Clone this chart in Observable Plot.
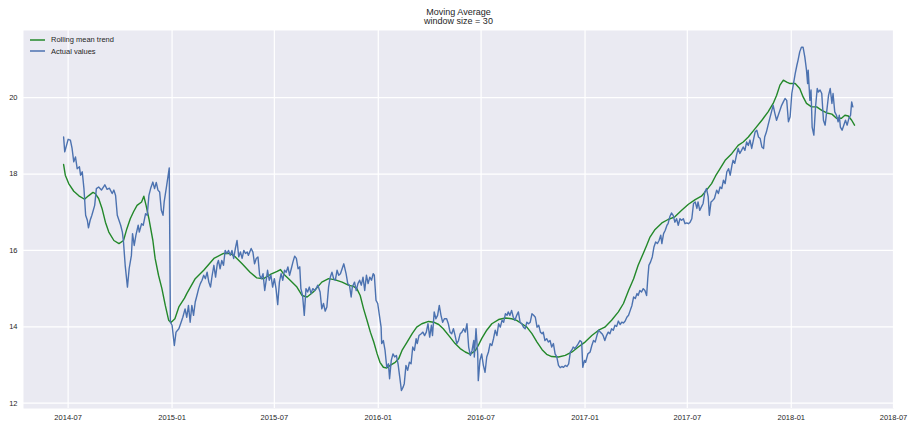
<!DOCTYPE html>
<html>
<head>
<meta charset="utf-8">
<script src="https://cdn.jsdelivr.net/npm/d3@7"></script>
<script src="https://cdn.jsdelivr.net/npm/@observablehq/plot@0.6"></script>
<style>
  body { margin: 0; background: #ffffff; font-family: "Liberation Sans", Arial, sans-serif; }
  #wrap { position: relative; width: 917px; height: 431px; }
  #title { height: 30px; box-sizing: border-box; padding-top: 7.5px; text-align: center; font-size: 9px; line-height: 9.5px; color: #262626; }
  #legend { position: absolute; left: 30px; top: 33.75px; font-size: 7.5px; color: #262626; }
  .item { display: flex; align-items: center; height: 11.5px; }
  .item svg { display: block; margin-right: 6px; }
</style>
</head>
<body>
<div id="wrap">
  <div id="title">Moving Average<br>window size = 30</div>
  <div id="chart"></div>
  <div id="legend"></div>
</div>
<script>
// ---- Data ----
const actualDates = [
"2014-06-23","2014-06-25","2014-07-01","2014-07-05","2014-07-08","2014-07-11","2014-07-14","2014-07-17","2014-07-21","2014-07-23",
"2014-07-26","2014-07-29","2014-08-01","2014-08-04","2014-08-06","2014-08-09","2014-08-12","2014-08-17","2014-08-20","2014-08-24",
"2014-08-29","2014-09-04","2014-09-08","2014-09-12","2014-09-17","2014-09-20","2014-09-23","2014-09-26","2014-09-29","2014-10-02",
"2014-10-05","2014-10-07","2014-10-10","2014-10-14","2014-10-17","2014-10-21","2014-10-23","2014-10-26","2014-10-29","2014-11-02",
"2014-11-04","2014-11-08","2014-11-11","2014-11-15","2014-11-18","2014-11-21","2014-11-24","2014-11-28","2014-12-01","2014-12-04",
"2014-12-07","2014-12-10","2014-12-13","2014-12-16","2014-12-18","2014-12-22","2014-12-27","2014-12-29","2015-01-01","2015-01-05",
"2015-01-08","2015-01-13","2015-01-17","2015-01-20","2015-01-24","2015-01-27","2015-01-30","2015-02-02","2015-02-05","2015-02-08",
"2015-02-11","2015-02-14","2015-02-17","2015-02-20","2015-02-23","2015-02-26","2015-03-01","2015-03-04","2015-03-07","2015-03-10",
"2015-03-13","2015-03-16","2015-03-19","2015-03-22","2015-03-24","2015-03-27","2015-03-30","2015-04-02","2015-04-05","2015-04-08",
"2015-04-11","2015-04-14","2015-04-17","2015-04-20","2015-04-23","2015-04-26","2015-04-29","2015-05-02","2015-05-05","2015-05-08",
"2015-05-11","2015-05-14","2015-05-16","2015-05-21","2015-05-24","2015-05-27","2015-05-30","2015-06-02","2015-06-05","2015-06-08",
"2015-06-11","2015-06-14","2015-06-17","2015-06-19","2015-06-22","2015-06-25","2015-06-28","2015-07-01","2015-07-04","2015-07-07",
"2015-07-10","2015-07-13","2015-07-16","2015-07-19","2015-07-22","2015-07-25","2015-07-28","2015-07-31","2015-08-03","2015-08-06",
"2015-08-09","2015-08-12","2015-08-15","2015-08-17","2015-08-20","2015-08-23","2015-08-26","2015-08-29","2015-09-01","2015-09-04",
"2015-09-07","2015-09-11","2015-09-16","2015-09-20","2015-09-23","2015-09-26","2015-09-29","2015-10-02","2015-10-05","2015-10-08",
"2015-10-11","2015-10-14","2015-10-17","2015-10-20","2015-10-23","2015-10-26","2015-10-29","2015-11-01","2015-11-05","2015-11-08",
"2015-11-11","2015-11-14","2015-11-16","2015-11-20","2015-11-23","2015-11-26","2015-11-29","2015-12-02","2015-12-05","2015-12-08",
"2015-12-11","2015-12-14","2015-12-17","2015-12-20","2015-12-23","2015-12-25","2015-12-28","2015-12-31","2016-01-03","2016-01-06",
"2016-01-07","2016-01-10","2016-01-13","2016-01-16","2016-01-19","2016-01-21","2016-01-24","2016-01-27","2016-01-30","2016-02-02",
"2016-02-05","2016-02-08","2016-02-11","2016-02-14","2016-02-16","2016-02-19","2016-02-22","2016-02-25","2016-02-28","2016-03-02",
"2016-03-05","2016-03-08","2016-03-10","2016-03-13","2016-03-17","2016-03-20","2016-03-23","2016-03-26","2016-03-29","2016-04-01",
"2016-04-04","2016-04-06","2016-04-09","2016-04-12","2016-04-15","2016-04-18","2016-04-21","2016-04-24","2016-04-27","2016-05-01",
"2016-05-04","2016-05-07","2016-05-10","2016-05-13","2016-05-16","2016-05-19","2016-05-22","2016-05-25","2016-05-28","2016-05-31",
"2016-06-03","2016-06-06","2016-06-09","2016-06-12","2016-06-15","2016-06-18","2016-06-19","2016-06-22","2016-06-25","2016-06-26",
"2016-06-29","2016-07-02","2016-07-05","2016-07-08","2016-07-11","2016-07-14","2016-07-17","2016-07-20","2016-07-23","2016-07-26",
"2016-07-29","2016-08-01","2016-08-04","2016-08-07","2016-08-10","2016-08-13","2016-08-16","2016-08-18","2016-08-21","2016-08-24",
"2016-08-27","2016-08-30","2016-09-02","2016-09-05","2016-09-08","2016-09-11","2016-09-14","2016-09-17","2016-09-20","2016-09-23",
"2016-09-26","2016-09-29","2016-10-02","2016-10-05","2016-10-08","2016-10-11","2016-10-14","2016-10-17","2016-10-19","2016-10-22",
"2016-10-25","2016-10-28","2016-10-31","2016-11-03","2016-11-06","2016-11-09","2016-11-12","2016-11-15","2016-11-18","2016-11-21",
"2016-11-24","2016-11-27","2016-11-30","2016-12-03","2016-12-06","2016-12-09","2016-12-11","2016-12-14","2016-12-17","2016-12-20",
"2016-12-23","2016-12-26","2016-12-28","2016-12-31","2017-01-02","2017-01-06","2017-01-10","2017-01-13","2017-01-16","2017-01-19",
"2017-01-22","2017-01-25","2017-01-28","2017-01-31","2017-02-02","2017-02-05","2017-02-08","2017-02-11","2017-02-14","2017-02-17",
"2017-02-20","2017-02-23","2017-02-26","2017-03-01","2017-03-04","2017-03-07","2017-03-10","2017-03-13","2017-03-16","2017-03-19",
"2017-03-22","2017-03-25","2017-03-28","2017-03-31","2017-04-03","2017-04-05","2017-04-08","2017-04-11","2017-04-14","2017-04-17",
"2017-04-20","2017-04-22","2017-04-24","2017-04-27","2017-04-30","2017-05-03","2017-05-06","2017-05-09","2017-05-12","2017-05-15",
"2017-05-17","2017-05-20","2017-05-23","2017-05-26","2017-05-28","2017-05-31","2017-06-03","2017-06-06","2017-06-09","2017-06-12",
"2017-06-15","2017-06-18","2017-06-21","2017-06-24","2017-06-27","2017-06-30","2017-07-03","2017-07-06","2017-07-09","2017-07-12",
"2017-07-15","2017-07-18","2017-07-20","2017-07-23","2017-07-26","2017-07-29","2017-08-01","2017-08-04","2017-08-07","2017-08-09",
"2017-08-12","2017-08-15","2017-08-18","2017-08-22","2017-08-25","2017-08-28","2017-08-31","2017-09-03","2017-09-06","2017-09-09",
"2017-09-12","2017-09-15","2017-09-18","2017-09-20","2017-09-23","2017-09-26","2017-09-29","2017-10-02","2017-10-05","2017-10-08",
"2017-10-11","2017-10-14","2017-10-17","2017-10-20","2017-10-23","2017-10-26","2017-10-29","2017-11-01","2017-11-04","2017-11-07",
"2017-11-10","2017-11-13","2017-11-15","2017-11-18","2017-11-21","2017-11-24","2017-11-27","2017-11-30","2017-12-03","2017-12-06",
"2017-12-09","2017-12-12","2017-12-15","2017-12-18","2017-12-21","2017-12-24","2017-12-27","2017-12-30","2018-01-02","2018-01-05",
"2018-01-08","2018-01-11","2018-01-13","2018-01-16","2018-01-19","2018-01-22","2018-01-25","2018-01-28","2018-01-30","2018-01-31",
"2018-02-03","2018-02-05","2018-02-07","2018-02-10","2018-02-13","2018-02-16","2018-02-18","2018-02-21","2018-02-24","2018-02-27",
"2018-03-02","2018-03-05","2018-03-08","2018-03-11","2018-03-14","2018-03-16","2018-03-19","2018-03-22","2018-03-25","2018-03-27",
"2018-03-29","2018-04-01","2018-04-04","2018-04-07","2018-04-10","2018-04-13","2018-04-16","2018-04-18","2018-04-20"
];
const actualValues = [
18.97,18.58,18.91,18.89,18.67,18.32,18.45,18.14,18.19,17.97,
18.06,17.62,16.92,16.79,16.59,16.79,16.92,17.18,17.62,17.66,
17.58,17.72,17.60,17.63,17.49,17.58,17.44,16.92,16.79,16.66,
16.48,16.22,15.61,15.04,15.52,15.87,16.44,16.13,16.40,16.66,
16.48,16.70,16.66,16.96,16.92,17.44,17.62,17.79,17.62,17.78,
17.58,17.53,17.05,16.92,17.27,17.66,18.16,14.12,14.04,13.51,
13.86,13.95,14.12,14.25,14.47,14.25,14.56,14.12,14.56,14.30,
14.65,14.82,15.00,15.13,15.22,15.35,15.26,15.43,15.17,15.04,
15.35,15.61,15.30,15.65,15.74,15.52,15.74,15.61,16.00,15.92,
16.00,15.87,16.00,15.79,16.05,16.26,15.83,15.96,15.79,16.00,
15.92,15.96,15.87,16.05,15.96,15.65,15.79,15.83,15.35,15.26,
15.39,14.95,15.26,15.48,15.22,15.35,15.04,15.26,15.00,14.58,
15.17,15.39,15.22,15.48,15.43,15.57,15.35,15.52,15.70,15.85,
15.79,15.52,15.57,15.00,14.82,14.30,15.00,14.91,15.04,14.87,
15.00,14.95,15.09,14.91,14.47,14.61,14.41,14.52,15.04,15.30,
15.43,15.26,15.22,15.48,15.35,15.39,15.52,15.65,15.39,15.13,
15.09,14.78,15.04,15.17,14.95,15.13,15.22,15.09,15.30,14.95,
15.35,15.13,15.30,15.22,15.39,15.35,14.69,14.61,14.30,13.99,
13.56,13.64,13.38,12.94,13.03,12.64,13.12,13.29,13.21,13.25,
13.03,12.68,12.33,12.42,12.51,12.99,12.86,13.07,13.03,13.47,
13.38,13.69,13.56,13.77,13.82,13.86,13.77,13.86,14.08,13.73,
14.04,13.77,14.39,14.21,14.30,14.56,14.30,14.12,14.21,14.21,
14.08,13.86,13.82,13.95,13.77,13.56,13.64,13.82,13.86,13.95,
13.86,14.08,13.47,13.25,13.38,13.64,13.21,13.95,13.29,12.59,
13.12,13.29,12.99,12.81,13.21,13.34,13.56,13.51,13.69,13.91,
13.77,14.08,13.99,14.17,14.12,14.34,14.30,14.39,14.30,14.43,
14.25,14.17,14.30,14.39,14.12,14.08,13.99,13.95,14.12,14.08,
14.12,14.34,14.30,14.25,13.99,14.04,13.86,13.82,13.86,13.64,
13.69,13.60,13.64,13.47,13.56,13.29,13.21,12.99,12.93,12.96,
12.94,12.99,12.96,13.03,13.34,13.40,13.47,13.43,13.49,13.56,
13.64,13.60,12.94,13.12,13.07,13.29,13.34,13.51,13.64,13.60,
13.77,13.91,13.86,13.82,13.77,13.64,13.77,13.86,13.82,13.95,
13.91,14.04,14.01,14.15,14.06,14.12,14.10,14.15,14.25,14.30,
14.43,14.56,14.78,14.74,14.87,14.82,14.95,14.91,15.00,14.95,
14.82,15.26,15.61,15.70,15.83,16.09,16.22,16.18,16.26,16.40,
16.18,16.44,16.53,16.66,16.70,16.88,16.98,16.92,16.74,16.83,
16.66,16.83,16.79,16.83,16.70,16.72,16.70,16.74,16.83,17.23,
17.27,17.10,17.27,17.05,17.14,17.23,17.53,17.62,17.40,16.92,
17.27,17.31,17.36,17.58,17.49,17.66,17.62,17.84,17.75,18.06,
18.14,17.97,18.23,18.36,18.28,18.49,18.67,18.54,18.62,18.71,
18.62,18.84,18.75,18.89,18.67,18.89,19.10,19.15,18.97,18.93,
18.71,18.67,18.97,19.10,19.28,19.46,19.63,19.80,19.59,19.41,
19.54,19.67,19.80,19.89,19.98,19.93,19.37,19.50,20.11,20.37,
20.63,20.85,20.98,21.20,21.32,21.32,21.07,20.72,20.37,20.72,
19.93,20.20,19.23,19.02,19.76,20.24,20.15,20.20,20.11,19.41,
19.28,19.67,20.06,20.24,19.85,20.11,19.63,19.54,19.37,19.54,
19.23,19.15,19.28,19.41,19.28,19.46,19.54,19.89,19.76
];

const trendDates = [
"2014-06-23","2014-06-26","2014-07-02","2014-07-11","2014-07-20","2014-07-30","2014-08-06","2014-08-14","2014-08-18","2014-08-24",
"2014-08-30","2014-09-05","2014-09-11","2014-09-20","2014-09-29","2014-10-07","2014-10-13","2014-10-19","2014-10-25","2014-10-31",
"2014-11-08","2014-11-12","2014-11-16","2014-11-21","2014-11-28","2014-12-02","2014-12-08","2014-12-14","2014-12-20","2014-12-26",
"2014-12-30","2015-01-06","2015-01-13","2015-01-23","2015-01-27","2015-02-11","2015-02-26","2015-03-16","2015-04-02","2015-04-14",
"2015-04-23","2015-05-05","2015-05-19","2015-05-31","2015-06-12","2015-06-24","2015-07-06","2015-07-12","2015-07-17","2015-07-29",
"2015-08-10","2015-08-19","2015-08-28","2015-09-08","2015-09-23","2015-10-05","2015-10-17","2015-10-29","2015-11-09","2015-11-18",
"2015-11-24","2015-11-30","2015-12-06","2015-12-12","2015-12-18","2015-12-24","2015-12-30","2016-01-04","2016-01-10","2016-01-16",
"2016-01-22","2016-01-31","2016-02-06","2016-02-12","2016-02-21","2016-03-01","2016-03-09","2016-03-18","2016-03-30","2016-04-08",
"2016-04-17","2016-04-25","2016-05-07","2016-05-16","2016-05-25","2016-06-03","2016-06-12","2016-06-21","2016-06-26","2016-07-02",
"2016-07-11","2016-07-20","2016-08-01","2016-08-13","2016-08-24","2016-09-02","2016-09-11","2016-09-20","2016-09-29","2016-10-08",
"2016-10-17","2016-10-25","2016-11-03","2016-11-15","2016-11-27","2016-12-09","2016-12-20","2017-01-01","2017-01-13","2017-01-25",
"2017-02-05","2017-02-17","2017-03-01","2017-03-10","2017-03-19","2017-03-28","2017-04-05","2017-04-14","2017-04-20","2017-04-26",
"2017-05-05","2017-05-17","2017-05-28","2017-06-09","2017-06-21","2017-07-03","2017-07-15","2017-07-26","2017-08-04","2017-08-13",
"2017-08-20","2017-08-28","2017-09-06","2017-09-18","2017-09-29","2017-10-08","2017-10-17","2017-10-29","2017-11-10","2017-11-21",
"2017-11-30","2017-12-06","2017-12-12","2017-12-18","2017-12-24","2017-12-30","2018-01-08","2018-01-16","2018-01-22","2018-01-28",
"2018-02-06","2018-02-15","2018-02-24","2018-03-05","2018-03-14","2018-03-22","2018-03-31","2018-04-06","2018-04-12","2018-04-18",
"2018-04-23"
];
const trendValues = [
18.25,17.97,17.75,17.55,17.43,17.34,17.43,17.52,17.49,17.36,
17.10,16.74,16.48,16.26,16.18,16.26,16.57,16.83,17.02,17.18,
17.27,17.42,17.18,16.83,16.26,15.79,15.35,15.00,14.56,14.17,
14.11,14.21,14.52,14.75,14.87,15.26,15.48,15.79,15.92,15.92,
15.83,15.65,15.43,15.28,15.26,15.37,15.45,15.50,15.39,15.22,
15.04,14.82,14.78,14.91,15.17,15.26,15.23,15.17,15.09,15.06,
15.00,14.82,14.47,14.17,13.86,13.60,13.29,13.07,12.94,12.92,
12.99,13.07,13.16,13.38,13.60,13.82,13.99,14.08,14.14,14.12,
14.06,13.95,13.73,13.56,13.43,13.34,13.28,13.38,13.51,13.69,
13.91,14.08,14.19,14.23,14.21,14.17,14.08,13.99,13.82,13.60,
13.40,13.28,13.22,13.21,13.25,13.34,13.47,13.60,13.77,13.91,
13.99,14.17,14.39,14.61,14.95,15.26,15.61,15.92,16.13,16.35,
16.55,16.72,16.81,16.88,17.05,17.21,17.33,17.42,17.58,17.75,
17.95,18.14,18.36,18.54,18.75,18.84,18.97,19.19,19.41,19.63,
19.85,20.06,20.33,20.46,20.41,20.37,20.37,20.24,20.02,19.85,
19.76,19.76,19.67,19.60,19.57,19.46,19.46,19.54,19.52,19.41,
19.28
];

const xTickLabels = ["2014-07","2015-01","2015-07","2016-01","2016-07","2017-01","2017-07","2018-01","2018-07"];
const yTickValues = [12, 14, 16, 18, 20];
const seriesNames = ["Rolling mean trend", "Actual values"];
const seriesColors = ["#23882a", "#4C72B0"];

// ---- Build tables ----
const parse = d3.utcParse("%Y-%m-%d");
const actual = actualDates.map((d, i) => ({date: parse(d), value: actualValues[i]}));
const trend = trendDates.map((d, i) => ({date: parse(d), value: trendValues[i]}));
const xTicks = xTickLabels.map(s => d3.utcParse("%Y-%m")(s));

const chart = Plot.plot({
  width: 917,
  height: 401,
  marginTop: 0,
  marginLeft: 23,
  marginRight: 24,
  marginBottom: 23,
  style: {fontFamily: "'Liberation Sans', Arial, sans-serif", fontSize: "7.5px", color: "#262626", background: "#ffffff", overflow: "visible"},
  x: {type: "utc", domain: [parse("2014-04-13"), parse("2018-07-01")]},
  y: {domain: [11.86, 21.76]},
  marks: [
    Plot.frame({fill: "#EAEAF2", stroke: null}),
    Plot.gridX(xTicks, {stroke: "#ffffff", strokeOpacity: 1, strokeWidth: 1.2}),
    Plot.gridY(yTickValues, {stroke: "#ffffff", strokeOpacity: 1, strokeWidth: 1.2}),
    Plot.line(trend, {x: "date", y: "value", stroke: seriesColors[0], strokeWidth: 1.4}),
    Plot.line(actual, {x: "date", y: "value", stroke: seriesColors[1], strokeWidth: 1.4}),
    Plot.axisX(xTicks, {tickSize: 0, tickPadding: 6, tickFormat: d3.utcFormat("%Y-%m"), label: null}),
    Plot.axisY(yTickValues, {tickSize: 0, tickPadding: 6, label: null})
  ]
});
document.getElementById("chart").appendChild(chart);

// ---- Legend ----
const legend = d3.select("#legend");
seriesNames.forEach((name, i) => {
  const item = legend.append("div").attr("class", "item");
  const sw = item.append("svg").attr("width", 15).attr("height", 6);
  sw.append("line")
    .attr("x1", 0).attr("x2", 15).attr("y1", 3).attr("y2", 3)
    .attr("stroke", seriesColors[i]).attr("stroke-width", 1.5);
  item.append("span").text(name);
});
</script>
</body>
</html>
